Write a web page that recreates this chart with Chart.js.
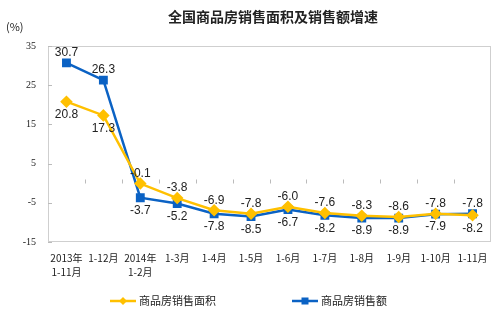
<!DOCTYPE html>
<html>
<head>
<meta charset="utf-8">
<script src="https://cdn.jsdelivr.net/npm/chart.js@4"></script>
<style>
  html, body { margin: 0; padding: 0; background: #fff; }
  #wrap { width: 500px; height: 323px; position: relative; }
</style>
</head>
<body>
<div id="wrap"><canvas id="c"></canvas></div>
<script>
const labels = [['2013年', '1-11月'], '1-12月', ['2014年', '1-2月'], '1-3月', '1-4月', '1-5月', '1-6月', '1-7月', '1-8月', '1-9月', '1-10月', '1-11月'];
const areaGrowth = [20.8, 17.3, -0.1, -3.8, -6.9, -7.8, -6.0, -7.6, -8.3, -8.6, -7.8, -8.2];
const salesGrowth = [30.7, 26.3, -3.7, -5.2, -7.8, -8.5, -6.7, -8.2, -8.9, -8.9, -7.9, -7.8];
const seriesNames = ['商品房销售面积', '商品房销售额'];
const yTicks = [35, 25, 15, 5, -5, -15];

const YELLOW = '#FFC000';
const BLUE = '#0B62C4';
const TXT = '#222';

const extras = {
  id: 'extras',
  afterDraw(chart) {
    const { ctx, chartArea: a, scales: { x, y } } = chart;
    ctx.save();
    // plot frame
    ctx.strokeStyle = '#cfcfcf';
    ctx.lineWidth = 1;
    ctx.strokeRect(a.left + 0.5, a.top + 0.5, a.right - a.left - 1, a.bottom - a.top - 1);
    // short ticks on zero line and left edge
    ctx.strokeStyle = '#bbb';
    const y0 = Math.round(y.getPixelForValue(0)) + 0.5;
    ctx.beginPath();
    for (let i = 1; i < labels.length; i++) {
      const px = Math.round((x.getPixelForValue(i - 1) + x.getPixelForValue(i)) / 2) + 0.5;
      ctx.moveTo(px, y0); ctx.lineTo(px, y0 - 4);
    }
    yTicks.forEach(v => {
      const py = Math.round(y.getPixelForValue(v)) + 0.5;
      ctx.moveTo(a.left, py); ctx.lineTo(a.left + 4, py);
    });
    ctx.stroke();

    // data labels: larger value of the pair above, smaller below
    ctx.fillStyle = TXT;
    ctx.font = '12px "Liberation Sans", Arial, sans-serif';
    ctx.textAlign = 'center';
    const sets = [areaGrowth, salesGrowth];
    sets.forEach((arr, si) => {
      const other = sets[1 - si];
      arr.forEach((v, i) => {
        const px = x.getPixelForValue(i);
        const py = y.getPixelForValue(v);
        const above = v > other[i] || (v === other[i] && si === 1);
        if (above) { ctx.textBaseline = 'bottom'; ctx.fillText(v.toFixed(1), px, py - 4); }
        else { ctx.textBaseline = 'top'; ctx.fillText(v.toFixed(1), px, py + 7); }
      });
    });

    // title and unit
    ctx.font = 'bold 14px "Noto Sans CJK SC", sans-serif';
    ctx.textBaseline = 'middle';
    ctx.fillText('全国商品房销售面积及销售额增速', 273, 17);
    ctx.font = '11px "Noto Sans CJK SC", sans-serif';
    ctx.textAlign = 'left';
    ctx.fillText('(%)', 6, 27);

    // legend
    const items = [
      { name: seriesNames[0], color: YELLOW, x: 110, shape: 'diamond' },
      { name: seriesNames[1], color: BLUE, x: 292, shape: 'square' },
    ];
    ctx.font = '11px "Noto Sans CJK SC", sans-serif';
    items.forEach(it => {
      const ly = 301;
      ctx.strokeStyle = it.color; ctx.lineWidth = 2.5;
      ctx.beginPath(); ctx.moveTo(it.x, ly); ctx.lineTo(it.x + 26, ly); ctx.stroke();
      ctx.fillStyle = it.color;
      const cx = it.x + 13;
      if (it.shape === 'square') ctx.fillRect(cx - 3.5, ly - 3.5, 7, 7);
      else { ctx.beginPath(); ctx.moveTo(cx, ly - 4); ctx.lineTo(cx + 4, ly); ctx.lineTo(cx, ly + 4); ctx.lineTo(cx - 4, ly); ctx.closePath(); ctx.fill(); }
      ctx.fillStyle = TXT;
      ctx.fillText(it.name, it.x + 29, ly);
    });
    ctx.restore();
  }
};

new Chart(document.getElementById('c'), {
  type: 'line',
  data: {
    labels,
    datasets: [
      { label: seriesNames[0], data: areaGrowth, borderColor: YELLOW, backgroundColor: YELLOW, borderWidth: 2.5,
        pointStyle: 'rectRot', pointRadius: 4.5, pointHoverRadius: 4.5, tension: 0 },
      { label: seriesNames[1], data: salesGrowth, borderColor: BLUE, backgroundColor: BLUE, borderWidth: 2.5,
        pointStyle: 'rect', pointRadius: 4.5, pointHoverRadius: 4.5, tension: 0 },
    ],
  },
  options: {
    responsive: true,
    maintainAspectRatio: false,
    animation: false,
    layout: { padding: { top: 46, right: 9, left: 0, bottom: 0 } },
    plugins: { legend: { display: false }, tooltip: { enabled: false } },
    scales: {
      x: {
        offset: true,
        grid: { display: false, drawTicks: false },
        border: { display: false },
        ticks: { color: TXT, font: { size: 10, family: '"Noto Sans CJK SC", sans-serif', lineHeight: 1.4 }, padding: 9, maxRotation: 0, autoSkip: false },
        afterFit(s) { s.height = 81; },
      },
      y: {
        min: -15, max: 35,
        afterBuildTicks(s) { s.ticks = yTicks.map(v => ({ value: v })); },
        grid: { drawTicks: false, color: c => (c.tick && c.tick.value === 0 ? '#bdbdbd' : 'transparent') },
        border: { display: false },
        ticks: { color: TXT, font: { size: 10, family: '"Liberation Serif", serif' }, padding: 12 },
        afterFit(s) { s.width = 48; },
      },
    },
  },
  plugins: [extras],
});
</script>
</body>
</html>
